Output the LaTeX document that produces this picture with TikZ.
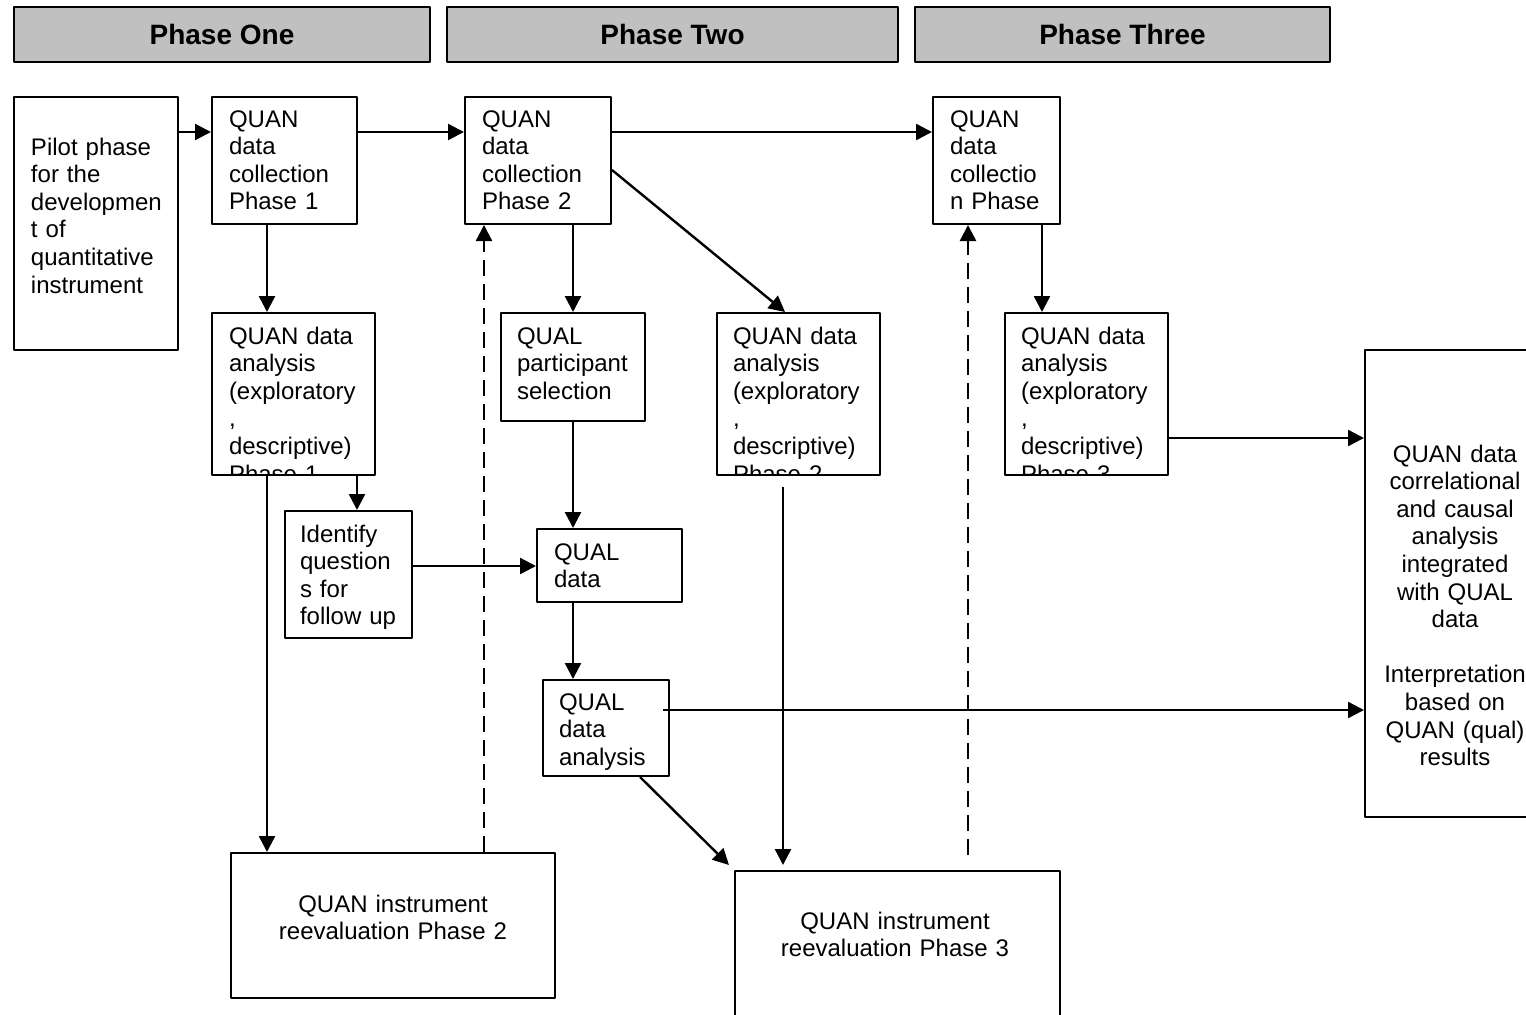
\documentclass[tikz,border=0pt]{standalone}
\usepackage{fontspec}
\setmainfont{Liberation Sans}
\usetikzlibrary{arrows.meta,fit}
\definecolor{phasegray}{RGB}{192,192,192}
\tikzset{
  box/.style={draw, line width=1pt, inner sep=0pt},
  phase/.style={box, fill=phasegray},
  phasefont/.style={font=\fontsize{14}{16}\selectfont\bfseries},
  words/.style n args={3}{path picture={\node[inner sep=0pt, align=left, anchor=base west, xshift={#1*0.5pt}, yshift={-#2*0.5pt}] at (path picture bounding box.north west) {#3};}},
  cwords/.style n args={3}{path picture={\node[inner sep=0pt, align=center, anchor=base, xshift={#1*0.5pt}, yshift={-#2*0.5pt}] at (path picture bounding box.north west) {#3};}},
  arr/.style={->, line width=1.2pt},
  dasharr/.style={arr, dash pattern=on 8pt off 4pt},
}
\begin{document}
\begin{tikzpicture}[x=0.5pt, y=-0.5pt, font=\fontsize{12}{13.8}\selectfont, line join=round, >={Triangle[length=8pt,width=8pt]}]
  \useasboundingbox (0,0) rectangle (1526,1014);
  % phases
  \node[phase, fit={(14,7) (430,62)}, label={[phasefont]center:Phase One}] (one) {};
  \node[phase, fit={(447,7) (898,62)}, label={[phasefont]center:Phase Two}] (two) {};
  \node[phase, fit={(915,7) (1330,62)}, label={[phasefont]center:Phase Three}] (three) {};
  % boxes
  \node[box, fit={(14,97) (178,350)}, words={16}{58}{Pilot phase\\for the\\developmen\\t of\\quantitative\\instrument}] (pilot) {};
  \node[box, fit={(212,97) (357,224)}, words={16}{30}{QUAN\\data\\collection\\Phase 1}] (qc1) {};
  \node[box, fit={(465,97) (611,224)}, words={16}{30}{QUAN\\data\\collection\\Phase 2}] (qc2) {};
  \node[box, fit={(933,97) (1060,224)}, words={16}{30}{QUAN\\data\\collectio\\n Phase}] (qc3) {};
  \node[box, fit={(212,313) (375,475)}, words={16}{31}{QUAN data\\analysis\\(exploratory\\,\\descriptive)\\Phase 1}] (qa1) {};
  \node[box, fit={(501,313) (645,421)}, words={15}{31}{QUAL\\participant\\selection}] (qps) {};
  \node[box, fit={(717,313) (880,475)}, words={15}{31}{QUAN data\\analysis\\(exploratory\\,\\descriptive)\\Phase 2}] (qa2) {};
  \node[box, fit={(1005,313) (1168,475)}, words={15}{31}{QUAN data\\analysis\\(exploratory\\,\\descriptive)\\Phase 3}] (qa3) {};
  \node[box, fit={(285,511) (412,638)}, words={14}{31}{Identify\\question\\s for\\follow up}] (ident) {};
  \node[box, fit={(537,529) (682,602)}, words={16}{31}{QUAL\\data}] (qd) {};
  \node[box, fit={(543,680) (669,776)}, words={15}{30}{QUAL\\data\\analysis}] (qda) {};
  \node[box, fit={(1365,350) (1547,817)}, cwords={90}{112}{QUAN data\\correlational\\and causal\\analysis\\integrated\\with QUAL\\data\\[13.8pt]Interpretation\\based on\\QUAN (qual)\\results}] (integ) {};
  \node[box, fit={(231,853) (555,998)}, cwords={162}{59}{QUAN instrument\\reevaluation Phase 2}] (re2) {};
  \node[box, fit={(735,871) (1060,1040)}, cwords={160}{58}{QUAN instrument\\reevaluation Phase 3}] (re3) {};
  % free ends
  \coordinate (qdaout) at (663,710);
  \coordinate (re3in) at (729,865);
  \coordinate (qa2out) at (783,487);
  \coordinate (re3top) at (968,855);
  % arrows
  \draw[arr] (pilot.east |- 0,132) -- (qc1.west |- 0,132);
  \draw[arr] (qc1.east |- 0,132) -- (qc2.west |- 0,132);
  \draw[arr] (qc2.east |- 0,132) -- (qc3.west |- 0,132);
  \draw[arr] (qc1.south -| 267,0) -- (qa1.north -| 267,0);
  \draw[arr] (qc2.south -| 573,0) -- (qps.north -| 573,0);
  \draw[arr] (qc2.east |- 0,170) -- (qa2.north -| 785,0);
  \draw[arr] (qc3.south -| 1042,0) -- (qa3.north -| 1042,0);
  \draw[arr] (qa3.east |- 0,438) -- (integ.west |- 0,438);
  \draw[arr] (qa1.south -| 357,0) -- (ident.north -| 357,0);
  \draw[arr] (qa1.south -| 267,0) -- (re2.north -| 267,0);
  \draw[arr] (ident.east |- 0,566) -- (qd.west |- 0,566);
  \draw[arr] (qps.south -| 573,0) -- (qd.north -| 573,0);
  \draw[arr] (qd.south -| 573,0) -- (qda.north -| 573,0);
  \draw[arr] (qdaout) -- (integ.west |- 0,710);
  \draw[arr] (qda.south -| 640,0) -- (re3in);
  \draw[arr] (qa2out) -- (re3in -| qa2out);
  \draw[dasharr] (re2.north -| 484,0) -- (qc2.south -| 484,0);
  \draw[dasharr] (re3top) -- (qc3.south -| 968,0);
\end{tikzpicture}
\end{document}
